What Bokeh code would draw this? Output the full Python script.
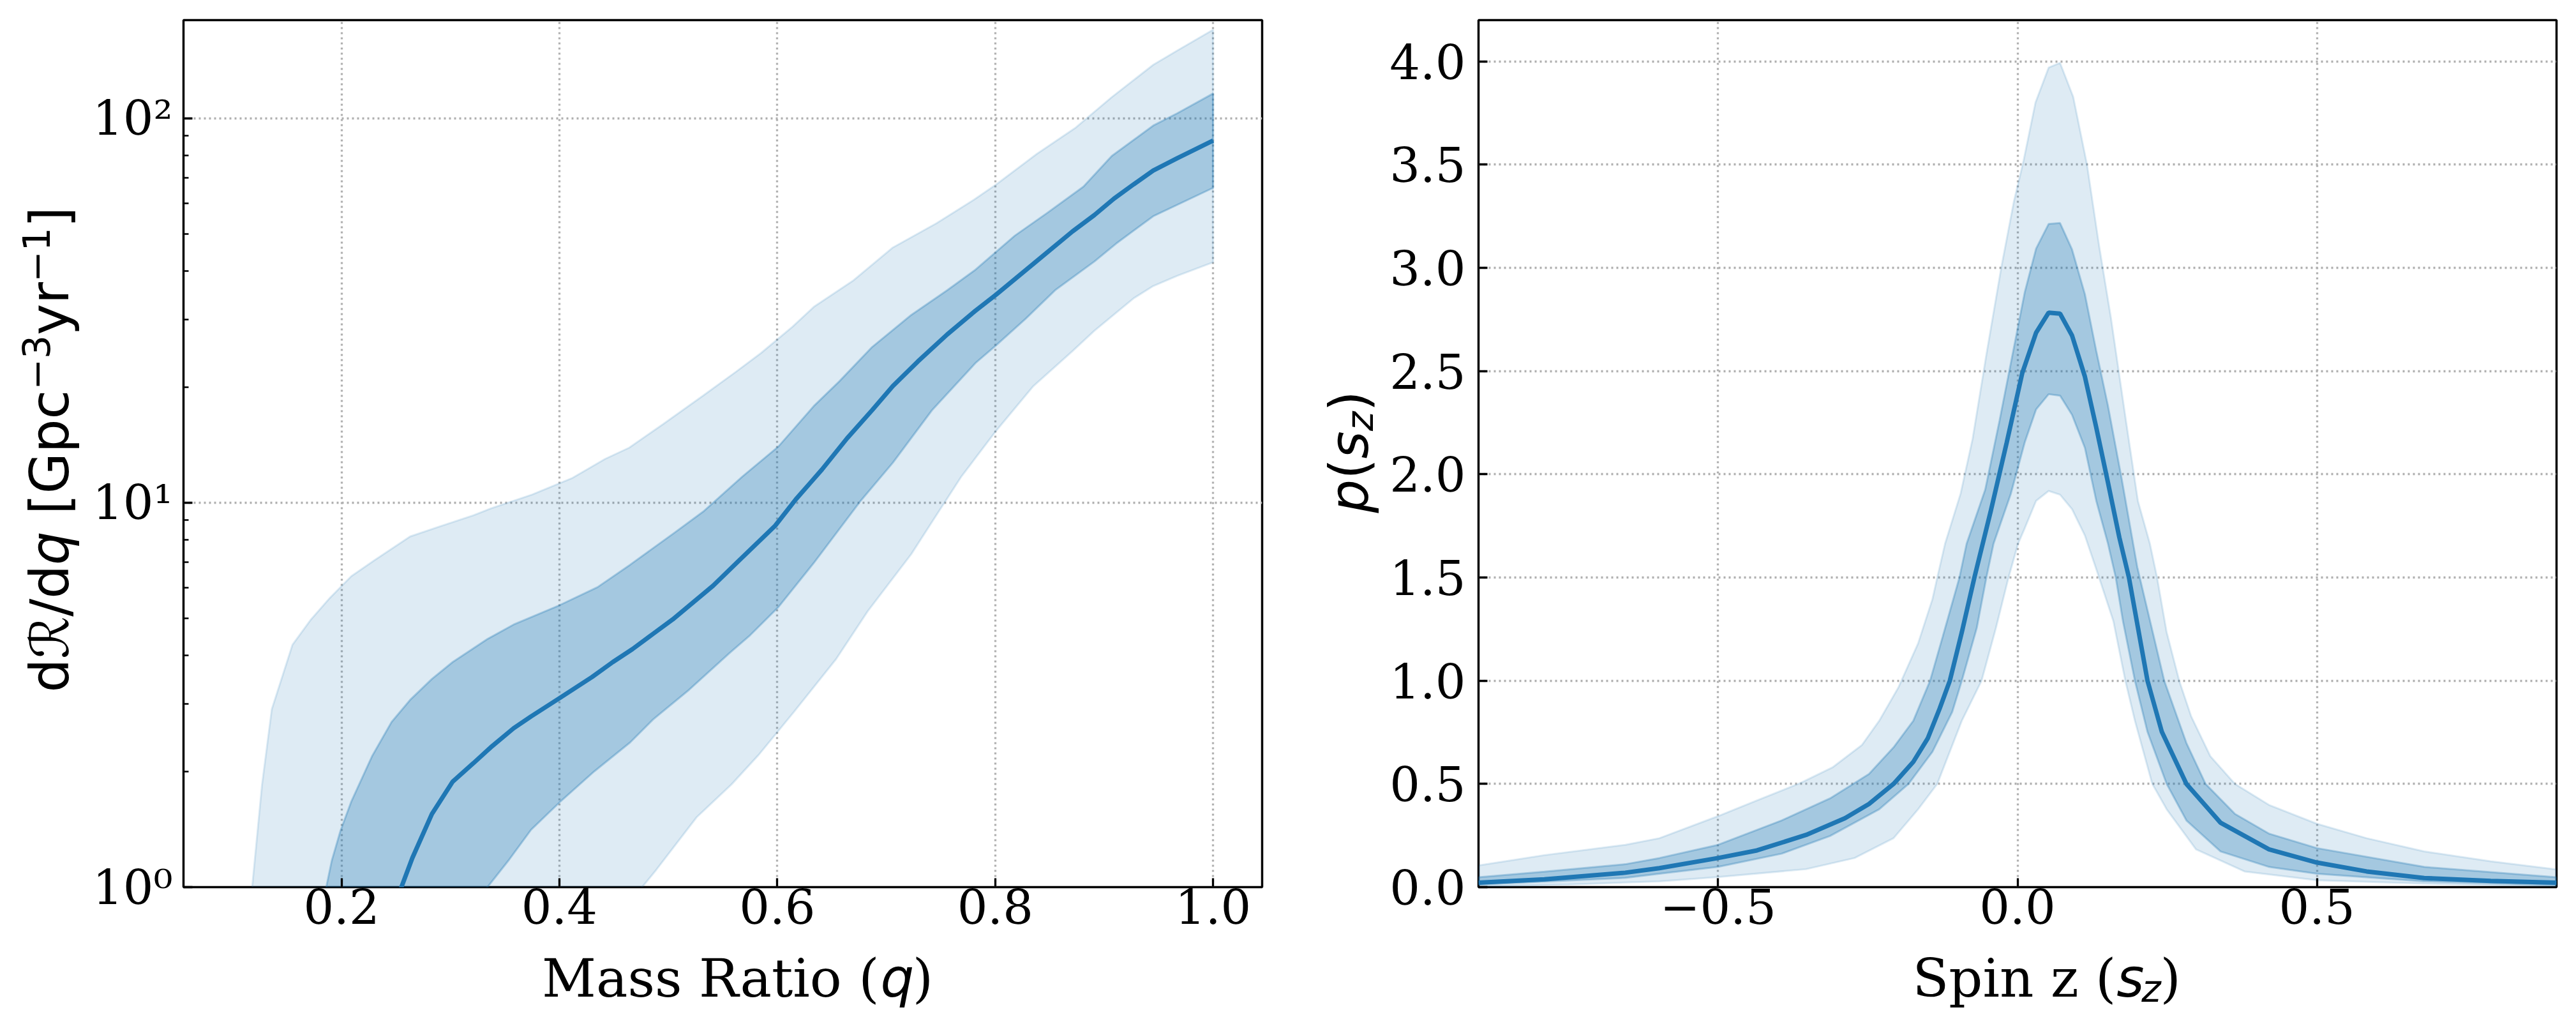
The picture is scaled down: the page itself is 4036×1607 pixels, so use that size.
import math
from bokeh.plotting import figure
from bokeh.models import FixedTicker, Label, Range1d
from bokeh.layouts import row, column
from bokeh.embed import file_html
from bokeh.resources import INLINE

# ---------------- Left panel: dR/dq vs mass ratio q ----------------
Q_MED = [0.248, 0.255, 0.265, 0.283, 0.302, 0.321, 0.337, 0.358, 0.374, 0.400, 0.430, 0.449,
         0.467, 0.486, 0.504, 0.541, 0.565, 0.598, 0.617, 0.641, 0.664, 0.687, 0.706, 0.729,
         0.756, 0.782, 0.801, 0.835, 0.871, 0.891, 0.909, 0.927, 0.945, 0.967, 1.0]
R_MED = [0.85, 1.00, 1.19, 1.55, 1.88, 2.10, 2.31, 2.59, 2.78, 3.10, 3.52, 3.85,
         4.16, 4.56, 4.97, 6.08, 7.08, 8.71, 10.2, 12.2, 14.7, 17.4, 20.1, 23.3,
         27.4, 31.6, 34.8, 41.8, 50.8, 56.0, 61.8, 67.3, 73.1, 78.7, 87.5]

Q_IN_HI = [0.180, 0.186, 0.191, 0.199, 0.209, 0.228, 0.246, 0.263, 0.283, 0.302, 0.334, 0.358,
           0.400, 0.435, 0.465, 0.506, 0.532, 0.568, 0.601, 0.634, 0.657, 0.687, 0.723, 0.756,
           0.782, 0.818, 0.848, 0.881, 0.907, 0.945, 0.967, 1.0]
R_IN_HI = [0.8, 1.0, 1.17, 1.40, 1.67, 2.19, 2.69, 3.07, 3.48, 3.85, 4.42, 4.82,
           5.41, 6.03, 6.90, 8.37, 9.48, 11.7, 14.0, 17.9, 20.7, 25.4, 30.8, 35.7,
           40.4, 49.5, 56.8, 66.4, 79.8, 95.7, 103.0, 116.0]

Q_IN_LO = [0.320, 0.334, 0.354, 0.374, 0.400, 0.432, 0.465, 0.486, 0.519, 0.556, 0.575, 0.601,
           0.634, 0.676, 0.706, 0.742, 0.782, 0.801, 0.828, 0.855, 0.891, 0.911, 0.945, 1.0]
R_IN_LO = [0.8, 1.0, 1.18, 1.41, 1.66, 2.0, 2.38, 2.73, 3.26, 4.06, 4.52, 5.35,
           7.0, 10.07, 12.7, 17.4, 23.1, 25.7, 30.1, 35.7, 42.4, 47.2, 55.6, 65.9]

Q_OUT_HI = [0.112, 0.118, 0.127, 0.136, 0.155, 0.172, 0.189, 0.209, 0.230, 0.263, 0.290, 0.321,
            0.337, 0.375, 0.412, 0.442, 0.464, 0.495, 0.532, 0.562, 0.585, 0.614, 0.634, 0.670,
            0.706, 0.746, 0.782, 0.801, 0.838, 0.874, 0.907, 0.945, 0.967, 1.0]
R_OUT_HI = [0.5, 1.0, 1.84, 2.90, 4.27, 4.97, 5.64, 6.44, 7.08, 8.17, 8.67, 9.27,
            9.66, 10.5, 11.6, 13.0, 13.9, 16.0, 19.0, 21.9, 24.5, 28.7, 32.4, 37.9,
            46.1, 53.3, 61.8, 67.3, 80.7, 94.6, 113.5, 137.7, 150.0, 170.0]

Q_OUT_LO = [0.465, 0.476, 0.489, 0.526, 0.558, 0.583, 0.615, 0.654, 0.683, 0.723, 0.742, 0.769,
            0.801, 0.835, 0.871, 0.891, 0.927, 0.945, 0.967, 1.0]
R_OUT_LO = [0.8, 1.0, 1.11, 1.52, 1.85, 2.21, 2.85, 3.92, 5.22, 7.35, 8.91, 11.7,
            15.4, 20.1, 24.8, 28.0, 34.0, 36.6, 38.9, 42.2]

Q_TICKS = [0.2, 0.4, 0.6, 0.8, 1.0]
Q_TICK_LABELS = ["0.2", "0.4", "0.6", "0.8", "1.0"]
R_TICKS = [1, 10, 100]
R_TICK_LABELS = ["10\u2070", "10\u00b9", "10\u00b2"]
R_MINOR = [2, 3, 4, 5, 6, 7, 8, 9, 20, 30, 40, 50, 60, 70, 80, 90]

# ---------------- Right panel: p(s_z) vs spin z ----------------
S_MED = [-0.9, -0.79, -0.655, -0.598, -0.5, -0.435, -0.353, -0.288, -0.248, -0.207,
         -0.174, -0.150, -0.130, -0.113, -0.093, -0.072, -0.045, -0.018, 0.008, 0.031,
         0.052, 0.071, 0.091, 0.1125, 0.1315, 0.151, 0.170, 0.186, 0.217, 0.241,
         0.282, 0.339, 0.420, 0.5, 0.583, 0.679, 0.79, 0.9]
P_MED = [0.022, 0.038, 0.070, 0.092, 0.141, 0.178, 0.253, 0.334, 0.403, 0.500,
         0.607, 0.720, 0.865, 1.000, 1.235, 1.500, 1.818, 2.154, 2.491, 2.686,
         2.783, 2.778, 2.672, 2.473, 2.226, 1.960, 1.694, 1.500, 1.000, 0.752,
         0.500, 0.312, 0.183, 0.119, 0.076, 0.044, 0.030, 0.022]

S_IN_HI = [-0.9, -0.79, -0.655, -0.598, -0.5, -0.394, -0.313, -0.248, -0.207, -0.174,
           -0.146, -0.125, -0.097, -0.085, -0.054, -0.030, -0.006, 0.012, 0.031, 0.052,
           0.071, 0.091, 0.1125, 0.1315, 0.151, 0.174, 0.200, 0.217, 0.245, 0.282,
           0.314, 0.363, 0.420, 0.5, 0.679, 0.9]
P_IN_HI = [0.048, 0.075, 0.111, 0.141, 0.205, 0.323, 0.430, 0.548, 0.677, 0.806,
           1.000, 1.213, 1.500, 1.664, 1.925, 2.261, 2.615, 2.881, 3.093, 3.213,
           3.217, 3.089, 2.872, 2.597, 2.332, 1.977, 1.550, 1.342, 1.000, 0.698,
           0.500, 0.355, 0.259, 0.189, 0.098, 0.048]

S_IN_LO = [-0.9, -0.655, -0.598, -0.5, -0.394, -0.313, -0.231, -0.182, -0.142, -0.109,
           -0.093, -0.068, -0.052, -0.040, -0.011, 0.012, 0.031, 0.052, 0.071, 0.091,
           0.1125, 0.1315, 0.151, 0.164, 0.176, 0.196, 0.217, 0.249, 0.282, 0.339,
           0.420, 0.5, 0.679, 0.9]
P_IN_LO = [0.012, 0.045, 0.065, 0.098, 0.162, 0.248, 0.377, 0.500, 0.656, 0.849,
           1.000, 1.256, 1.500, 1.664, 1.907, 2.154, 2.314, 2.388, 2.381, 2.288,
           2.128, 1.871, 1.664, 1.500, 1.289, 1.000, 0.752, 0.500, 0.323, 0.173,
           0.098, 0.065, 0.028, 0.010]

S_OUT_HI = [-0.9, -0.79, -0.655, -0.598, -0.5, -0.435, -0.362, -0.309, -0.260, -0.231,
            -0.199, -0.166, -0.142, -0.134, -0.121, -0.095, -0.075, -0.052, -0.027, -0.006,
            0.010, 0.030, 0.052, 0.071, 0.093, 0.116, 0.136, 0.156, 0.181, 0.201,
            0.221, 0.233, 0.249, 0.270, 0.290, 0.322, 0.363, 0.420, 0.5, 0.583,
            0.679, 0.79, 0.9]
P_OUT_HI = [0.105, 0.155, 0.205, 0.237, 0.344, 0.420, 0.505, 0.580, 0.688, 0.806,
            0.967, 1.181, 1.396, 1.500, 1.664, 1.907, 2.172, 2.580, 3.004, 3.323,
            3.518, 3.801, 3.970, 3.993, 3.828, 3.500, 3.111, 2.757, 2.261, 1.871,
            1.664, 1.500, 1.235, 1.000, 0.827, 0.634, 0.500, 0.398, 0.307, 0.237,
            0.173, 0.125, 0.086]

S_OUT_LO = [-0.9, -0.75, -0.598, -0.5, -0.353, -0.272, -0.207, -0.166, -0.134, -0.093,
            -0.060, -0.036, -0.015, 0.001, 0.012, 0.031, 0.052, 0.071, 0.091, 0.1125,
            0.135, 0.160, 0.180, 0.196, 0.225, 0.249, 0.298, 0.379, 0.5, 0.679, 0.9]
P_OUT_LO = [0.004, 0.012, 0.028, 0.049, 0.087, 0.141, 0.237, 0.377, 0.500, 0.806,
            1.000, 1.256, 1.500, 1.664, 1.738, 1.871, 1.919, 1.901, 1.831, 1.703,
            1.510, 1.289, 1.000, 0.806, 0.500, 0.377, 0.183, 0.076, 0.033, 0.017, 0.004]

S_TICKS = [-0.5, 0.0, 0.5]
S_TICK_LABELS = ["\u22120.5", "0.0", "0.5"]
P_TICKS = [0.0, 0.5, 1.0, 1.5, 2.0, 2.5, 3.0, 3.5, 4.0]
P_TICK_LABELS = ["0.0", "0.5", "1.0", "1.5", "2.0", "2.5", "3.0", "3.5", "4.0"]

# ---------------- styling / layout ----------------
BLUE = "#1f77b4"
SERIF = "DejaVu Serif"
SANS = "DejaVu Sans"
TICK_PX = 75
LABEL_PX = 83
SUB_PX = 58
BASELINE_FIX = 0.34  # em; compensates the renderer's alphabetic-baseline offset

Q_RANGE = (0.055, 1.045)
R_RANGE = (1.0, 180.0)
S_RANGE = (-0.9, 0.9)
P_RANGE = (0.0, 4.2)

# page geometry (px): columns of the layout and frame edges
TOTAL_H = 1600
X_YL1, X_P1, X_YL2, X_P2, X_END = 0, 138, 2017, 2170, 4030
FRAME_TOP, FRAME_BOTTOM, PLOT_H = 31, 1389, 1480
L_FRAME = (287, 1977)
R_FRAME = (2316, 4005)
XLABEL_BASE = 1560


def style_axes(p):
    p.outline_line_color = "black"
    p.outline_line_width = 3.5
    p.outline_line_alpha = 1.0
    p.background_fill_color = "white"
    p.border_fill_color = "white"
    for ax in (p.xaxis[0], p.yaxis[0]):
        ax.axis_line_color = None
        ax.major_tick_in = 14
        ax.major_tick_out = 0
        ax.major_tick_line_width = 3.3
        ax.major_tick_line_color = "black"
        ax.minor_tick_in = 8
        ax.minor_tick_out = 0
        ax.minor_tick_line_width = 2.6
        ax.minor_tick_line_color = "black"
        ax.major_label_text_font = SERIF
        ax.major_label_text_font_size = f"{TICK_PX}px"
        ax.major_label_text_color = "black"
    p.xaxis.major_label_standoff = 2
    for g in (p.xgrid[0], p.ygrid[0]):
        g.grid_line_color = "#b0b0b0"
        g.grid_line_width = 3.3
        g.grid_line_dash = "3 5"


def text_strip(x0, y0, w, h):
    # blank figure whose data coordinates equal page pixels
    f = figure(width=w, height=h, x_range=Range1d(x0, x0 + w), y_range=Range1d(y0 + h, y0),
               output_backend="svg", toolbar_location=None, tools="",
               x_axis_location=None, y_axis_location=None, min_border=0)
    f.outline_line_color = None
    f.background_fill_color = "white"
    f.border_fill_color = "white"
    f.grid.visible = False
    return f


def add_text(p, x, y, text, font, size, style="normal", align="left", vertical=False):
    fix = BASELINE_FIX * size
    if vertical:
        x, angle = x - fix, math.pi / 2
    else:
        y, angle = y - fix, 0.0
    p.add_layout(Label(x=x, y=y, x_units="data", y_units="data", text=text,
                       text_font=font, text_font_size=f"{size}px", text_font_style=style,
                       text_align=align, text_baseline="alphabetic", angle=angle,
                       text_color="black"))


def band(p, xh, yh, xl, yl, alpha):
    p.patch(list(xh) + list(xl)[::-1], list(yh) + list(yl)[::-1],
            fill_color=BLUE, fill_alpha=alpha, line_color=BLUE, line_alpha=alpha, line_width=3)


# ---- left figure ----
W1 = X_YL2 - X_P1
p1 = figure(width=W1, height=PLOT_H, x_range=Range1d(*Q_RANGE), y_range=Range1d(*R_RANGE),
            y_axis_type="log", output_backend="svg", toolbar_location=None, tools="",
            min_border_left=L_FRAME[0] - X_P1, min_border_right=X_YL2 - L_FRAME[1],
            min_border_top=FRAME_TOP, min_border_bottom=PLOT_H - FRAME_BOTTOM)
style_axes(p1)
p1.xaxis.ticker = FixedTicker(ticks=Q_TICKS)
p1.xaxis.major_label_overrides = dict(zip(Q_TICKS, Q_TICK_LABELS))
p1.xaxis.minor_tick_line_color = None
p1.xgrid.ticker = FixedTicker(ticks=Q_TICKS)
p1.yaxis.ticker = FixedTicker(ticks=R_TICKS, minor_ticks=R_MINOR)
p1.yaxis.major_label_overrides = dict(zip(R_TICKS, R_TICK_LABELS))
p1.yaxis.major_label_standoff = 17
p1.ygrid.ticker = FixedTicker(ticks=R_TICKS)

band(p1, Q_OUT_HI, R_OUT_HI, Q_OUT_LO, R_OUT_LO, 0.15)
band(p1, Q_IN_HI, R_IN_HI, Q_IN_LO, R_IN_LO, 0.3)
p1.line(Q_MED, R_MED, line_color=BLUE, line_width=7)

# ---- right figure ----
W2 = X_END - X_P2
p2 = figure(width=W2, height=PLOT_H, x_range=Range1d(*S_RANGE), y_range=Range1d(*P_RANGE),
            output_backend="svg", toolbar_location=None, tools="",
            min_border_left=R_FRAME[0] - X_P2, min_border_right=X_END - R_FRAME[1],
            min_border_top=FRAME_TOP, min_border_bottom=PLOT_H - FRAME_BOTTOM)
style_axes(p2)
p2.xaxis.ticker = FixedTicker(ticks=S_TICKS)
p2.xaxis.major_label_overrides = dict(zip(S_TICKS, S_TICK_LABELS))
p2.xaxis.minor_tick_line_color = None
p2.xgrid.ticker = FixedTicker(ticks=S_TICKS)
p2.yaxis.ticker = FixedTicker(ticks=P_TICKS)
p2.yaxis.major_label_overrides = dict(zip(P_TICKS, P_TICK_LABELS))
p2.yaxis.minor_tick_line_color = None
p2.yaxis.major_label_standoff = 20
p2.ygrid.ticker = FixedTicker(ticks=P_TICKS)

band(p2, S_OUT_HI, P_OUT_HI, S_OUT_LO, P_OUT_LO, 0.15)
band(p2, S_IN_HI, P_IN_HI, S_IN_LO, P_IN_LO, 0.3)
p2.line(S_MED, P_MED, line_color=BLUE, line_width=7)

# ---- axis-title strips (texts in page pixel coordinates) ----
yl1 = text_strip(X_YL1, 0, X_P1 - X_YL1, TOTAL_H)
add_text(yl1, 106, 884.5, "d\u211b/d", SANS, LABEL_PX, align="right", vertical=True)
add_text(yl1, 106, 884.5, "q", SANS, LABEL_PX, style="italic", vertical=True)
add_text(yl1, 106, 805.4, "[Gpc", SANS, LABEL_PX, vertical=True)
add_text(yl1, 76, 610.0, "\u22123", SANS, SUB_PX, vertical=True)
add_text(yl1, 106, 524.5, "yr", SANS, LABEL_PX, vertical=True)
add_text(yl1, 76, 441.3, "\u22121", SANS, SUB_PX, vertical=True)
add_text(yl1, 106, 355.8, "]", SANS, LABEL_PX, vertical=True)

xl1 = text_strip(X_P1, PLOT_H, W1, TOTAL_H - PLOT_H)
add_text(xl1, 1350, XLABEL_BASE, "Mass Ratio (", SERIF, LABEL_PX, align="right")
add_text(xl1, 1352, XLABEL_BASE, "q", SANS, LABEL_PX, style="italic")
add_text(xl1, 1408, XLABEL_BASE, ")", SERIF, LABEL_PX)

yl2 = text_strip(X_YL2, 0, X_P2 - X_YL2, TOTAL_H)
add_text(yl2, 2142, 803, "p", SANS, LABEL_PX, style="italic", vertical=True)
add_text(yl2, 2142, 750.3, "(", SANS, LABEL_PX, vertical=True)
add_text(yl2, 2142, 717.9, "s", SANS, LABEL_PX, style="italic", vertical=True)
add_text(yl2, 2150, 674.6, "z", SANS, SUB_PX, style="italic", vertical=True)
add_text(yl2, 2142, 644.1, ")", SANS, LABEL_PX, vertical=True)

xl2 = text_strip(X_P2, PLOT_H, W2, TOTAL_H - PLOT_H)
add_text(xl2, 3270, XLABEL_BASE, "Spin z (", SERIF, LABEL_PX, align="right")
add_text(xl2, 3271, XLABEL_BASE, "s", SANS, LABEL_PX, style="italic")
add_text(xl2, 3314, XLABEL_BASE + 8, "z", SANS, SUB_PX, style="italic")
add_text(xl2, 3346, XLABEL_BASE, ")", SERIF, LABEL_PX)

layout = row(yl1, column(p1, xl1), yl2, column(p2, xl2))
open("out.html", "w").write(file_html(layout, INLINE))
